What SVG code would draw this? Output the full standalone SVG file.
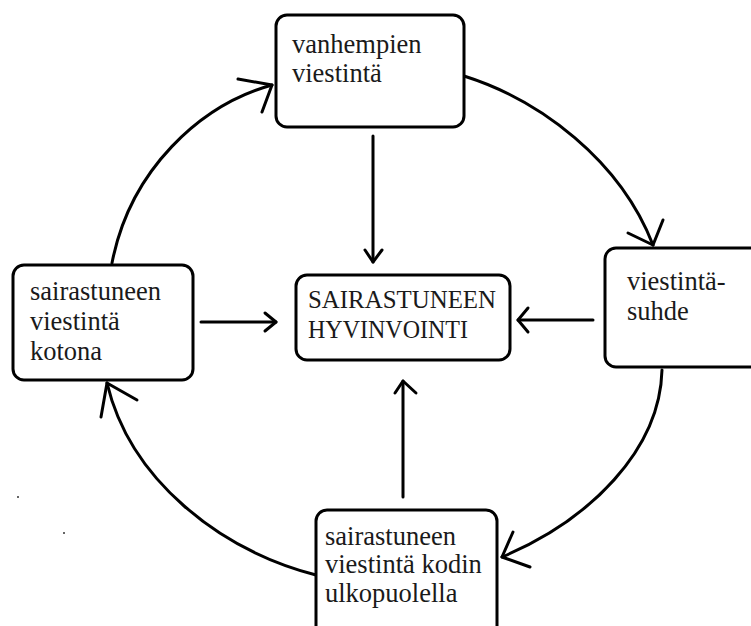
<svg xmlns="http://www.w3.org/2000/svg" width="751" height="626" viewBox="0 0 751 626">
<defs>
<style>
.box{fill:#fff;stroke:#000;stroke-width:3}
.t{font-family:'Liberation Serif','DejaVu Serif',serif;font-size:26.5px;fill:#1a1a1a}
.u{font-size:25.5px}
.c{fill:none;stroke:#000;stroke-width:3;stroke-linecap:round;stroke-linejoin:round}
</style>
</defs>
<rect width="751" height="626" fill="#fff"/>
<g id="connectors">
<path class="c" d="M464,76 C540,100 620,160 653,245"/>
<path class="c" d="M628,233 L653,245 L663,220"/>
<path class="c" d="M662,370 C660,450 590,520 502,557"/>
<path class="c" d="M513,532 L502,557 L530,567"/>
<path class="c" d="M316,575 C220,550 130,480 107,383"/>
<path class="c" d="M101,417 L107,383 L137,400"/>
<path class="c" d="M112,263 C130,170 200,105 272,85"/>
<path class="c" d="M238,79 L272,85 L262,112"/>
<path class="c" d="M373,136 L373,262"/>
<path class="c" d="M365,250 L373,262 L382,250"/>
<path class="c" d="M403,497 L403,381"/>
<path class="c" d="M395,393 L403,381 L416,393"/>
<path class="c" d="M593,320 L518,320"/>
<path class="c" d="M528,308 L518,320 L528,332"/>
<path class="c" d="M201,322 L276,322"/>
<path class="c" d="M265,313 L276,322 L265,331"/>
</g>
<g id="vanhempien">
<rect class="box" x="276" y="15" width="188" height="112" rx="11"/>
<text class="t" x="292" y="53">vanhempien</text>
<text class="t" x="292" y="82">viestintä</text>
</g>
<g id="hyvinvointi">
<rect class="box" x="296" y="275" width="214" height="85" rx="11"/>
<text class="t u" x="308" y="308" textLength="188" lengthAdjust="spacingAndGlyphs">SAIRASTUNEEN</text>
<text class="t u" x="308" y="338" textLength="160" lengthAdjust="spacingAndGlyphs">HYVINVOINTI</text>
</g>
<g id="viestintasuhde">
<rect class="box" x="605" y="248" width="160" height="119" rx="11"/>
<text class="t" x="627" y="290">viestintä-</text>
<text class="t" x="627" y="320">suhde</text>
</g>
<g id="kotona">
<rect class="box" x="13" y="265" width="180" height="115" rx="11"/>
<text class="t" x="30" y="300">sairastuneen</text>
<text class="t" x="30" y="330">viestintä</text>
<text class="t" x="30" y="360">kotona</text>
</g>
<g id="ulkopuolella">
<rect class="box" x="316" y="510" width="181" height="130" rx="11"/>
<text class="t" x="325" y="545">sairastuneen</text>
<text class="t" x="325" y="573">viestintä kodin</text>
<text class="t" x="325" y="602">ulkopuolella</text>
</g>
<circle cx="18" cy="497" r="1" fill="#333"/>
<circle cx="64" cy="533" r="1" fill="#333"/>
</svg>
